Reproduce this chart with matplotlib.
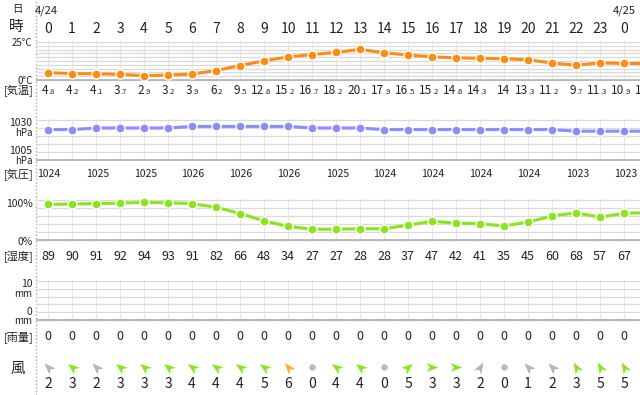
import numpy as np
import matplotlib
matplotlib.use("Agg")
import matplotlib.pyplot as plt
from matplotlib.path import Path
from matplotlib.markers import MarkerStyle
from matplotlib.transforms import Affine2D

plt.rcParams['font.family'] = ['Noto Sans CJK JP', 'DejaVu Sans']

# --- data (hourly, 4/24 0時 .. 4/25 0時, plus the next hour running off the edge)
hours = [0, 1, 2, 3, 4, 5, 6, 7, 8, 9, 10, 11, 12, 13, 14, 15, 16, 17, 18, 19, 20, 21, 22, 23, 0]
dates = {0: "4/24", 24: "4/25"}
temps = [4.8, 4.2, 4.1, 3.7, 2.9, 3.2, 3.9, 6.2, 9.5, 12.6, 15.2, 16.7, 18.2, 20.1, 17.9,
         16.5, 15.2, 14.6, 14.3, 14, 13.3, 11.2, 9.7, 11.3, 10.9, 10.8]
pressure = [1024, 1024, 1025, 1025, 1025, 1025, 1026, 1026, 1026, 1026, 1026, 1025, 1025,
            1025, 1024, 1024, 1024, 1024, 1024, 1024, 1024, 1024, 1023, 1023, 1023, 1023]
humidity = [89, 90, 91, 92, 94, 93, 91, 82, 66, 48, 34, 27, 27, 28, 28, 37, 47, 42, 41,
            35, 45, 60, 68, 57, 67, 68]
rain = [0] * 25
wind_speed = [2, 3, 2, 3, 3, 3, 4, 4, 4, 5, 6, 0, 4, 4, 0, 5, 3, 3, 2, 0, 1, 2, 3, 5, 5]
# direction the arrow points, degrees counter-clockwise from east
wind_dir = [135, 140, 135, 140, 140, 140, 145, 145, 145, 145, 130, 0, 145, 140, 0, 40,
            0, 0, 60, 0, 135, 135, 120, 120, 120]

W, H = 640, 395
fig = plt.figure(figsize=(W / 100, H / 100), dpi=100)


def fx(px):
    # pixel column -> hour index
    return (px - 48) / 24


XL, XR = fx(36), fx(640)

# overlay for all the text, y in pixels from the top
ov = fig.add_axes([0, 0, 1, 1])
ov.set_xlim(fx(0), fx(640))
ov.set_ylim(H, 0)
ov.axis('off')
ov.axvline(XL, color='#aaaaaa', lw=1, ls=(0, (1, 1.5)))

TXT = '#222222'


def panel(top, bottom, lo, hi, step, pad=1.5):
    scale = (bottom - top) / (hi - lo)
    ax = fig.add_axes([36 / W, 1 - (bottom + pad) / H, (640 - 36) / W,
                       (bottom - top + 2 * pad) / H])
    ax.set_xlim(XL, XR)
    ax.set_ylim(lo - pad / scale, hi + pad / scale)
    ax.set_facecolor('none')
    for s in ax.spines.values():
        s.set_visible(False)
    ax.set_xticks(range(25))
    ax.set_yticks(np.arange(lo, hi + step / 2, step))
    ax.xaxis.grid(True, color='#e6e6e6', lw=0.8)
    ax.yaxis.grid(True, color='#dadada', lw=0.9)
    ax.tick_params(length=0, labelbottom=False, labelleft=False)
    ax.axhline(lo, color='#b0b0b0', lw=1.2)
    return ax


idx = np.arange(len(temps))

# temperature
ax_t = panel(42, 80, 0, 25, 2.5)
ax_t.plot(idx, temps, color='#ff8c10', lw=2.2, marker='o', ms=6.5, mec='white', mew=1,
          clip_on=False)
# pressure
ax_p = panel(120, 160, 1005, 1030, 5)
ax_p.plot(idx, pressure, color='#8c8cff', lw=2.2, marker='o', ms=6.5, mec='white', mew=1,
          clip_on=False)
# humidity
ax_h = panel(200, 240, 0, 100, 20)
ax_h.plot(idx, humidity, color='#8ae61a', lw=2.2, marker='o', ms=6.5, mec='white', mew=1,
          clip_on=False)
# rain
ax_r = panel(281, 320, 0, 10, 2)
ax_r.bar(range(len(rain)), rain, width=0.6, color='#cccccc', edgecolor='#d0d0d0', lw=1.5)

# wind arrows
ax_w = fig.add_axes([36 / W, 1 - 377 / H, (640 - 36) / W, 20 / H])
ax_w.set_xlim(XL, XR)
ax_w.set_ylim(-1, 1)
ax_w.axis('off')
arrow = Path([(1, 0), (-1, 0.75), (-0.45, 0), (-1, -0.75), (1, 0)],
             [Path.MOVETO, Path.LINETO, Path.LINETO, Path.LINETO, Path.CLOSEPOLY])
for i, (s, d) in enumerate(zip(wind_speed, wind_dir)):
    if s == 0:
        ax_w.scatter(i, 0, s=22, color='#bbbbbb', marker='o', lw=0)
    else:
        c = '#b4b4b4' if s <= 2 else ('#ffb020' if s >= 6 else '#88e61a')
        m = MarkerStyle(arrow, transform=Affine2D().rotate_deg(d))
        ax_w.scatter(i, 0, s=70, color=c, marker=m, lw=0)

# header
ov.text(fx(17.5), 12, "日", ha='center', va='baseline', fontsize=7.5, color=TXT)
ov.text(fx(16.5), 31.5, "時", ha='center', va='baseline', fontsize=10.5, color=TXT)
for i, d in dates.items():
    if i == 0:
        ov.text(fx(35), 13, d, ha='left', va='baseline', fontsize=8, color=TXT)
    else:
        ov.text(i, 13, d, ha='center', va='baseline', fontsize=8, color=TXT)
for i, h in enumerate(hours):
    ov.text(i, 33, str(h), ha='center', va='baseline', fontsize=10, color=TXT)

# left axis labels
lx = fx(32.5)
ov.text(lx, 46.5, "25°C", ha='right', va='baseline', fontsize=7, color=TXT)
ov.text(lx, 83.5, "0°C", ha='right', va='baseline', fontsize=7, color=TXT)
ov.text(lx, 126.5, "1030", ha='right', va='baseline', fontsize=7.5, color=TXT)
ov.text(lx, 136, "hPa", ha='right', va='baseline', fontsize=7, color=TXT)
ov.text(lx, 153.5, "1005", ha='right', va='baseline', fontsize=7.5, color=TXT)
ov.text(lx, 163.5, "hPa", ha='right', va='baseline', fontsize=7, color=TXT)
ov.text(lx, 207, "100%", ha='right', va='baseline', fontsize=7.5, color=TXT)
ov.text(lx, 245, "0%", ha='right', va='baseline', fontsize=7.5, color=TXT)
ov.text(lx, 287, "10", ha='right', va='baseline', fontsize=7.5, color=TXT)
ov.text(lx, 297, "mm", ha='right', va='baseline', fontsize=7, color=TXT)
ov.text(lx, 315, "0", ha='right', va='baseline', fontsize=7.5, color=TXT)
ov.text(lx, 324, "mm", ha='right', va='baseline', fontsize=7, color=TXT)

for label, y in [("[気温]", 94.5), ("[気圧]", 178.5), ("[湿度]", 260.5), ("[雨量]", 340.5)]:
    ov.text(fx(18.5), y, label, ha='center', va='baseline', fontsize=8, color=TXT)
ov.text(fx(18), 373, "風", ha='center', va='baseline', fontsize=10.5, color=TXT)

# value rows
for i, v in enumerate(temps):
    if v == int(v):
        ov.text(i, 94.5, str(int(v)), ha='center', va='baseline', fontsize=8.5, color=TXT)
    else:
        ip, dp = f"{v:.1f}".split('.')
        ov.text(i + 0.02, 94.5, ip, ha='right', va='baseline', fontsize=8.5, color=TXT)
        ov.text(i + 0.02, 94.5, '.' + dp, ha='left', va='baseline', fontsize=5.5, color=TXT)
for i in range(0, 25, 2):
    ov.text(i + 0.05, 177, str(pressure[i]), ha='center', va='baseline', fontsize=7.5,
            color=TXT)
for i in range(25):
    ov.text(i, 260, str(humidity[i]), ha='center', va='baseline', fontsize=9, color=TXT)
for i, r in enumerate(rain):
    ov.text(i, 340, str(r), ha='center', va='baseline', fontsize=9, color=TXT)
for i, s in enumerate(wind_speed):
    ov.text(i, 388, str(s), ha='center', va='baseline', fontsize=10, color=TXT)

fig.savefig("out.png", dpi=100)
